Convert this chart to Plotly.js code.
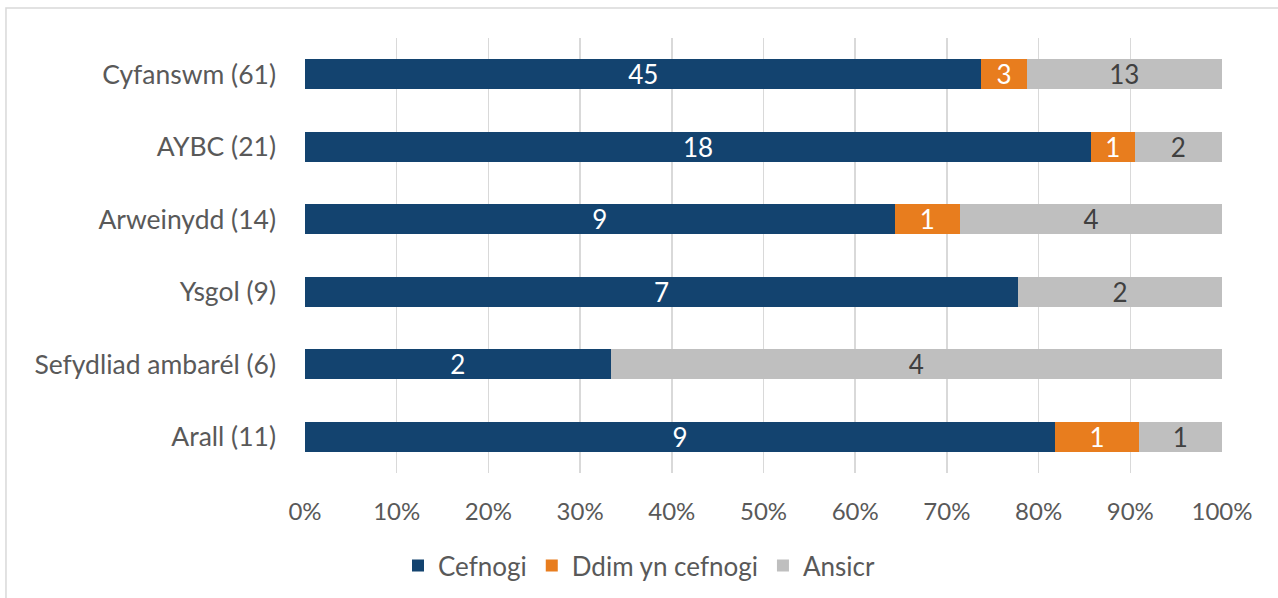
<!DOCTYPE html>
<html>
<head>
<meta charset="utf-8">
<script src="https://cdn.plot.ly/plotly-3.0.1.min.js"></script>
<style>html,body{margin:0;padding:0;background:#fff;}#chart{width:1278px;height:598px;}</style>
</head>
<body>
<div id="chart"></div>
<script>
const categories = ["Cyfanswm (61)", "AYBC (21)", "Arweinydd (14)", "Ysgol (9)", "Sefydliad ambarél (6)", "Arall (11)"];
const cefnogi = [45, 18, 9, 7, 2, 9];
const ddimYnCefnogi = [3, 1, 1, 0, 0, 1];
const ansicr = [13, 2, 4, 2, 4, 1];
const seriesNames = ["Cefnogi", "Ddim yn cefnogi", "Ansicr"];
const xTickVals = [0,10,20,30,40,50,60,70,80,90,100];
const xTickText = ["0%","10%","20%","30%","40%","50%","60%","70%","80%","90%","100%"];

const FONT = "Lato, 'Open Sans', sans-serif";
const colors = ["#13436F", "#E87D1E", "#BFBFBF"];
const textColors = ["#ffffff", "#ffffff", "#404040"];
const seriesValues = [cefnogi, ddimYnCefnogi, ansicr];

const data = seriesValues.map((vals, i) => ({
  type: "bar",
  orientation: "h",
  name: seriesNames[i],
  y: categories,
  x: vals,
  text: vals.map(v => v > 0 ? String(v) : ""),
  textposition: "inside",
  insidetextanchor: "middle",
  textangle: 0,
  constraintext: "none",
  textfont: {family: FONT, size: 26, color: textColors[i]},
  marker: {color: colors[i], line: {width: 0}},
  hoverinfo: "x+y+name"
}));

const layout = {
  width: 1278, height: 598,
  margin: {l: 305, r: 56, t: 38, b: 125},
  barmode: "stack",
  barnorm: "percent",
  bargap: 0.59,
  paper_bgcolor: "#ffffff",
  plot_bgcolor: "#ffffff",
  font: {family: FONT, color: "#595959"},
  xaxis: {
    range: [0, 100],
    tickmode: "array",
    tickvals: xTickVals,
    ticktext: xTickText,
    showgrid: true,
    gridcolor: "#D9D9D9",
    gridwidth: 1.5,
    zeroline: false,
    showline: false,
    ticks: "",
    ticklabelstandoff: 22,
    tickfont: {family: FONT, size: 24, color: "#595959"},
    fixedrange: true
  },
  yaxis: {
    autorange: "reversed",
    showgrid: false,
    zeroline: false,
    showline: false,
    ticks: "",
    ticklabelstandoff: 28,
    tickfont: {family: FONT, size: 26.5, color: "#595959"},
    fixedrange: true
  },
  legend: {
    orientation: "h",
    xref: "container", yref: "container",
    x: 0.5, xanchor: "center",
    y: 0.054, yanchor: "middle",
    font: {family: FONT, size: 26, color: "#595959"},
    itemwidth: 30,
    traceorder: "normal"
  },
  shapes: [{
    type: "rect", xref: "paper", yref: "paper",
    x0: -0.3261, x1: 1.08, y0: -0.32, y1: 1.069,
    line: {color: "#D9D9D9", width: 1.5},
    fillcolor: "rgba(0,0,0,0)",
    layer: "below"
  }],
  showlegend: true
};

Plotly.newPlot("chart", data, layout, {staticPlot: true, displayModeBar: false});
</script>
</body>
</html>
